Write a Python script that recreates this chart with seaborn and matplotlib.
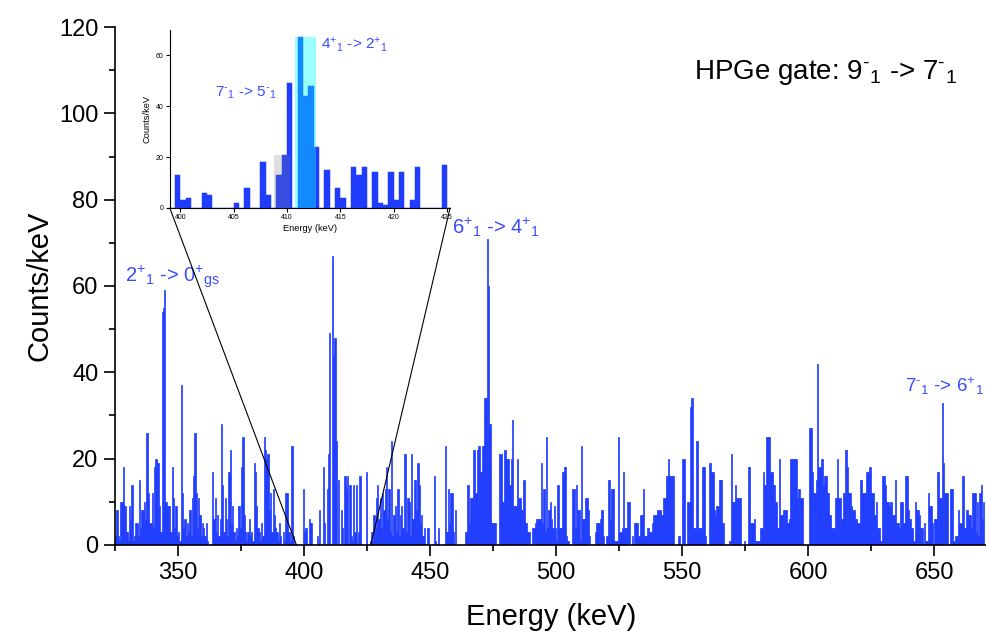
"""Gated HPGe coincidence spectrum with a zoomed inset around 400-425 keV."""

import matplotlib

matplotlib.use("Agg")
import matplotlib.pyplot as plt
import numpy as np
import pandas as pd
import seaborn as sns
from matplotlib.patches import ConnectionPatch
from matplotlib.ticker import MultipleLocator

BAR_COLOR = "#1f3cff"
LABEL_COLOR = "#3a4cff"

BIN_START = 324.0  # keV, low edge of first bin
BIN_WIDTH = 0.5  # keV

# Counts/keV per 0.5 keV bin, 20 bins (10 keV) per line
counts_324_394 = [
    0, 1, 2, 8, 2, 1, 10, 10, 18, 9, 9, 3, 1, 9, 6, 14, 1, 2, 5, 5,
    2, 15, 4, 8, 8, 10, 6, 26, 12, 5, 5, 12, 4, 18, 20, 19, 19, 9, 3, 54,
    55, 59, 10, 9, 9, 9, 3, 18, 11, 4, 9, 2, 3, 1, 37, 12, 4, 6, 2, 5,
    3, 8, 2, 11, 16, 26, 12, 4, 11, 7, 2, 5, 4, 2, 5, 1, 0, 0, 0, 17,
    6, 11, 3, 7, 2, 6, 28, 14, 3, 11, 6, 2, 17, 22, 5, 9, 3, 1, 4, 2,
    9, 4, 18, 25, 7, 3, 1, 3, 6, 2, 3, 1, 19, 17, 9, 4, 3, 1, 5, 2,
    25, 22, 20, 21, 8, 12, 3, 13, 7, 4, 3, 1, 5, 2, 0, 3, 1, 12, 12, 3,
]
counts_394_424 = [
    3, 1, 23, 2, 0, 0, 0, 0, 0, 0, 0, 13, 3, 4, 0, 0, 6, 5, 0, 0,
    0, 0, 2, 0, 8, 0, 0, 18, 5, 0, 13, 21, 49, 0, 67, 44, 48, 24, 0, 15,
    0, 8, 4, 0, 16, 13, 16, 0, 14, 2, 1, 14, 3, 14, 0, 3, 16, 0, 0, 0,
]
counts_424_494 = [
    0, 17, 0, 0, 1, 3, 1, 7, 4, 11, 14, 6, 11, 4, 12, 8, 13, 18, 6, 13,
    3, 24, 2, 7, 9, 3, 13, 2, 7, 9, 4, 21, 21, 3, 11, 10, 2, 21, 6, 15,
    15, 8, 19, 14, 5, 7, 2, 4, 0, 0, 4, 0, 0, 0, 0, 16, 1, 0, 4, 0,
    0, 0, 0, 0, 23, 3, 13, 5, 12, 12, 3, 0, 8, 0, 0, 0, 0, 0, 0, 0,
    3, 14, 14, 5, 11, 11, 22, 22, 12, 22, 23, 23, 17, 23, 23, 34, 34, 71, 60, 28,
    5, 5, 5, 5, 0, 0, 0, 21, 21, 10, 10, 22, 20, 20, 20, 14, 20, 29, 9, 9,
    9, 20, 11, 11, 8, 8, 15, 5, 5, 3, 3, 0, 0, 4, 4, 5, 6, 6, 6, 6,
]
counts_494_594 = [
    19, 5, 13, 3, 25, 4, 8, 10, 6, 4, 9, 4, 1, 14, 4, 4, 4, 17, 18, 18,
    2, 1, 0, 0, 0, 13, 13, 4, 14, 8, 8, 1, 23, 6, 6, 11, 11, 8, 2, 0,
    0, 0, 0, 3, 5, 5, 5, 6, 8, 2, 0, 0, 2, 15, 15, 6, 13, 13, 1, 1,
    1, 25, 3, 3, 4, 17, 4, 4, 10, 10, 10, 0, 2, 0, 5, 5, 5, 2, 2, 7,
    7, 13, 2, 2, 4, 4, 3, 3, 5, 7, 7, 7, 8, 8, 8, 7, 7, 11, 11, 16,
    16, 20, 16, 16, 16, 16, 0, 0, 0, 2, 0, 0, 20, 20, 0, 0, 10, 10, 32, 34,
    34, 4, 4, 24, 24, 4, 4, 4, 18, 18, 2, 0, 0, 19, 19, 17, 17, 8, 7, 9,
    9, 15, 15, 15, 5, 0, 0, 0, 0, 1, 1, 21, 10, 10, 14, 11, 11, 11, 11, 0,
    0, 1, 0, 0, 18, 18, 5, 5, 5, 6, 1, 1, 1, 1, 4, 4, 17, 14, 14, 25,
    25, 25, 17, 17, 14, 14, 10, 4, 4, 20, 7, 7, 8, 8, 8, 5, 5, 6, 20, 20,
]
counts_594_670 = [
    20, 20, 20, 11, 13, 13, 11, 11, 0, 0, 0, 0, 0, 27, 27, 17, 12, 12, 15, 42,
    18, 18, 20, 20, 14, 16, 16, 12, 12, 7, 4, 4, 4, 11, 11, 20, 11, 11, 6, 6,
    12, 22, 22, 18, 12, 12, 9, 8, 8, 6, 6, 5, 5, 15, 15, 12, 12, 12, 17, 17,
    18, 18, 12, 12, 7, 7, 10, 4, 4, 1, 1, 16, 16, 14, 10, 10, 9, 10, 10, 7,
    7, 15, 5, 5, 4, 10, 10, 5, 5, 16, 16, 8, 6, 6, 4, 1, 1, 10, 8, 8,
    7, 4, 4, 0, 5, 1, 1, 12, 9, 9, 5, 0, 6, 6, 17, 17, 11, 11, 33, 19,
    12, 12, 12, 0, 0, 13, 13, 1, 1, 2, 2, 8, 5, 5, 16, 16, 4, 8, 8, 7,
    7, 4, 12, 12, 12, 3, 10, 2, 12, 14, 6, 10,
]

# zoom window of the inset and the two highlighted peaks in it
INSET_RANGE = (399.0, 425.3)
LINK_TARGETS = (397.0, 426.5)
GREY_BAND = (408.75, 410.25)  # 7-_1 -> 5-_1
CYAN_BAND = (410.75, 412.75)  # 4+_1 -> 2+_1

counts = np.array(
    counts_324_394 + counts_394_424 + counts_424_494 + counts_494_594 + counts_594_670,
    dtype=float,
)
bin_range = (BIN_START, BIN_START + BIN_WIDTH * len(counts))
spectrum = pd.DataFrame(
    {
        "energy": BIN_START + BIN_WIDTH * (np.arange(len(counts)) + 0.5),
        "counts": counts,
    }
)

sns.set_theme(
    style="ticks",
    rc={
        "text.color": "black",
        "axes.labelcolor": "black",
        "xtick.color": "black",
        "ytick.color": "black",
        "axes.edgecolor": "black",
    },
)
plt.rcParams["font.family"] = ["Liberation Sans", "DejaVu Sans"]
plt.rcParams["mathtext.fontset"] = "custom"
plt.rcParams["mathtext.rm"] = "Liberation Sans"
plt.rcParams["mathtext.it"] = "Liberation Sans"
plt.rcParams["mathtext.bf"] = "Liberation Sans:bold"


def transition(lower, sign_lower, upper, sign_upper, sub_upper="1"):
    """Origin-style level label, e.g. 2+_1 -> 0+_gs, with scripts side by side."""
    return (
        rf"${lower}^{{\text{{{sign_lower}}}}}{{}}_{{1}}$ -> "
        rf"${upper}^{{\text{{{sign_upper}}}}}{{}}_{{\mathrm{{{sub_upper}}}}}$"
    )


def draw_spectrum(ax, edge_width):
    sns.histplot(
        data=spectrum,
        x="energy",
        weights="counts",
        binwidth=BIN_WIDTH,
        binrange=bin_range,
        element="bars",
        color=BAR_COLOR,
        edgecolor=BAR_COLOR,
        alpha=1.0,
        linewidth=edge_width,
        ax=ax,
    )


fig = plt.figure(figsize=(9.87, 6.34), dpi=100)
axis = fig.add_axes([0.1165, 0.1404, 0.8835, 0.817])
draw_spectrum(axis, 0.5)

axis.set_xlim(325, 671)
axis.set_ylim(0, 120)
axis.xaxis.set_major_locator(MultipleLocator(50))
axis.xaxis.set_minor_locator(MultipleLocator(25))
axis.yaxis.set_major_locator(MultipleLocator(20))
axis.yaxis.set_minor_locator(MultipleLocator(10))
axis.tick_params(which="major", direction="out", length=8, width=1.2, labelsize=17, color="black", pad=4)
axis.tick_params(which="minor", direction="out", length=4, width=1.2, color="black")
sns.despine(ax=axis)
for side in ("left", "bottom"):
    axis.spines[side].set_color("black")
    axis.spines[side].set_linewidth(1.2)
axis.set_xlabel("Energy (keV)", fontsize=21, labelpad=14)
axis.set_ylabel("Counts/keV", fontsize=21, labelpad=4)

axis.text(328.8, 61.0, transition(2, "+", 0, "+", "gs"), color=LABEL_COLOR, fontsize=14.5)
axis.text(458.6, 72.0, transition(6, "+", 4, "+"), color=LABEL_COLOR, fontsize=14.5)
axis.text(638.4, 35.4, transition(7, "-", 6, "+"), color=LABEL_COLOR, fontsize=13.5)
axis.text(
    554.6, 108.0, "HPGe gate: " + transition(9, "-", 7, "-"), color="black", fontsize=20
)

# zoomed inset
inset = fig.add_axes([0.172, 0.672, 0.284, 0.281])
inset.set_facecolor("none")
draw_spectrum(inset, 0.35)
inset.set_xlim(*INSET_RANGE)
inset.set_ylim(0, 70)
inset.xaxis.set_major_locator(MultipleLocator(5))
inset.yaxis.set_major_locator(MultipleLocator(20))
inset.tick_params(direction="out", length=3, width=0.8, labelsize=5, color="black", pad=1.5)
sns.despine(ax=inset)
for side in ("left", "bottom"):
    inset.spines[side].set_color("black")
    inset.spines[side].set_linewidth(0.8)
inset.set_xlabel("Energy (keV)", fontsize=6.7, labelpad=2)
inset.set_ylabel("Counts/keV", fontsize=6.7, labelpad=3)

for band, shade, alpha in ((GREY_BAND, "#808080", 0.25), (CYAN_BAND, "#00ffff", 0.4)):
    inside = (spectrum["energy"] > band[0]) & (spectrum["energy"] < band[1])
    top = spectrum.loc[inside, "counts"].max()
    inset.fill_between(band, 0, top, color=shade, alpha=alpha, lw=0, zorder=3)

inset.text(403.2, 43.6, transition(7, "-", 5, "-"), color=LABEL_COLOR, fontsize=11)
inset.text(413.15, 62.3, transition(4, "+", 2, "+"), color=LABEL_COLOR, fontsize=11)

for corner, target in zip((0, 1), LINK_TARGETS):
    link = ConnectionPatch(
        xyA=(corner, 0),
        coordsA="axes fraction",
        axesA=inset,
        xyB=(target, 0),
        coordsB="data",
        axesB=axis,
        color="black",
        linewidth=0.8,
    )
    fig.add_artist(link)

fig.savefig("out.png", dpi=100)
